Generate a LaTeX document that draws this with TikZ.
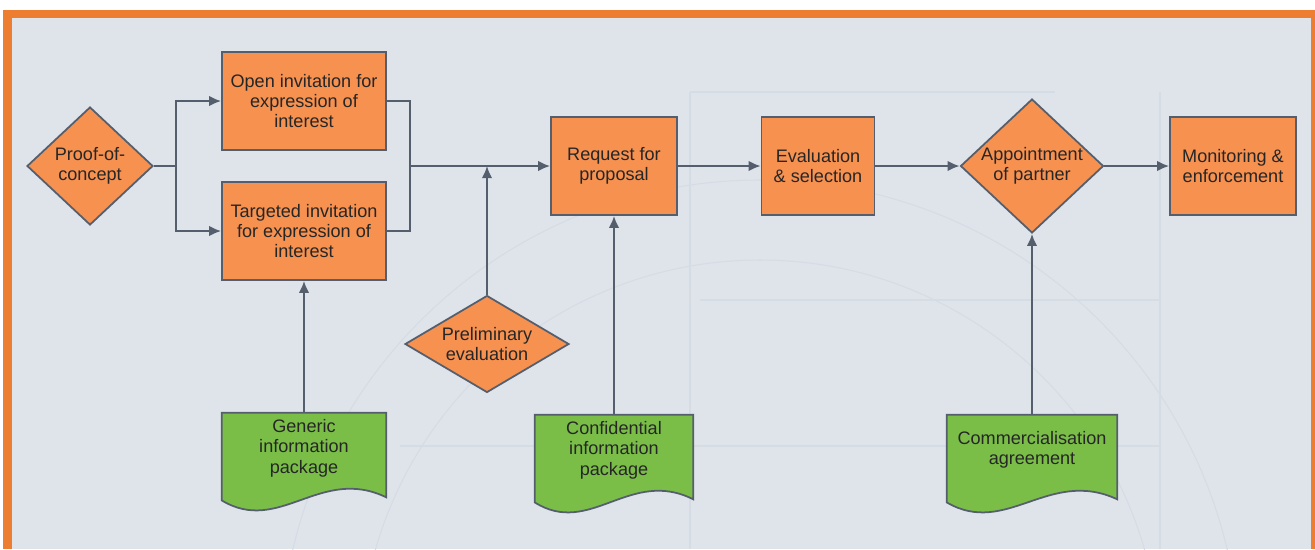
\documentclass[tikz,border=0pt]{standalone}
\usepackage{fontspec}
\setmainfont{Liberation Sans}
\usetikzlibrary{shapes.geometric,arrows.meta,calc}
\definecolor{boxorange}{RGB}{246,145,80}
\definecolor{docgreen}{RGB}{122,190,72}
\definecolor{edgegray}{RGB}{84,94,108}
\definecolor{paper}{RGB}{223,228,235}
\definecolor{faint}{RGB}{214,220,228}
\definecolor{frameorange}{RGB}{237,125,49}
\pgfdeclarelayer{bottom}
\pgfdeclarelayer{background}
\pgfsetlayers{bottom,background,main}
\tikzset{
  every node/.style={font=\fontsize{10.3}{11.6}\selectfont, align=center, text=black!85},
  stage/.style={rectangle, draw=edgegray, fill=boxorange, line width=1pt,
    minimum height=1.96cm, inner sep=0pt},
  decision/.style={diamond, draw=edgegray, fill=boxorange, line width=1pt, inner sep=-8pt},
  docnode/.style={minimum height=1.4cm, inner sep=0pt},
  docbox/.style={draw=edgegray, fill=docgreen, line width=1pt},
  flow/.style={draw=edgegray, line width=1.1pt, -{Latex[length=2.4mm,width=2.1mm]}},
  link/.style={draw=edgegray, line width=1.1pt},
}
\newcommand{\docwave}[1]{%
  \draw[docbox] (#1.north west) -- (#1.north east) -- ($(#1.south east)+(0,14)$)
    .. controls ($(#1.south west)!0.6!(#1.south east)+(0,-18)$)
    and ($(#1.south west)!0.35!(#1.south east)+(0,52)$) .. ($(#1.south west)+(0,17)$) -- cycle;}
\begin{document}
\begin{tikzpicture}[x=0.02cm,y=-0.02cm]
\useasboundingbox (0,0) rectangle (1315,549);
\begin{pgfonlayer}{bottom}
\fill[white] (0,0) rectangle (1315,549);
\fill[frameorange] (3,10) rectangle (1315,549);
\fill[paper] (12,18) rectangle (1311,549);
\draw[faint,line width=0.6pt] (690,92) -- (1055,92);
\draw[faint,line width=0.6pt] (690,92) -- (690,549);
\draw[faint,line width=0.6pt] (1160,92) -- (1160,549);
\draw[faint,line width=0.6pt] (400,446) -- (1160,446);
\draw[faint,line width=0.6pt] (700,300) -- (1160,300);
\draw[faint,line width=0.6pt] (760,660) circle (480);
\draw[faint,line width=0.6pt] (760,660) circle (400);
\end{pgfonlayer}

\node[decision, minimum width=2.52cm, minimum height=2.36cm] (poc) at (90,166) {Proof-of-\\concept};
\node[stage, minimum width=3.28cm] (open) at (304,101) {Open invitation for\\expression of\\interest};
\node[stage, minimum width=3.28cm] (targ) at (304,231) {Targeted invitation\\for expression of\\interest};
\node[stage, minimum width=2.52cm] (rfp) at (614,166) {Request for\\proposal};
\node[stage, minimum width=2.26cm] (evalsel) at (818,166) {Evaluation\\\& selection};
\node[decision, minimum width=2.86cm, minimum height=2.68cm] (appt) at (1032,166) {Appointment\\of partner};
\node[stage, minimum width=2.52cm] (monit) at (1233,166) {Monitoring \&\\enforcement};
\node[decision, minimum width=3.28cm, minimum height=1.94cm] (prelim) at (487,344) {Preliminary\\evaluation};
\node[docnode, minimum width=3.28cm] (generic) at (304,448) {Generic\\information\\package};
\node[docnode, minimum width=3.16cm] (confid) at (614,450) {Confidential\\information\\package};
\node[docnode, minimum width=3.4cm] (commagr) at (1032,450) {Commercialisation\\agreement};

\begin{pgfonlayer}{background}
\docwave{generic}
\docwave{confid}
\docwave{commagr}
\end{pgfonlayer}

\coordinate (split) at ($(poc.east)+(22,0)$);
\coordinate (merge) at (410,166);
\draw[link] (poc.east) -- (split);
\draw[flow] (split) |- (open.west);
\draw[flow] (split) |- (targ.west);
\draw[link] (open.east) -| (merge);
\draw[link] (targ.east) -| (merge);
\draw[flow] (merge) -- (rfp.west);
\draw[flow] (prelim.north) -- (prelim.north |- merge);
\draw[flow] (generic.north) -- (targ.south);
\draw[flow] (confid.north) -- (rfp.south);
\draw[flow] (rfp.east) -- (evalsel.west);
\draw[flow] (evalsel.east) -- (appt.west);
\draw[flow] (appt.east) -- (monit.west);
\draw[flow] (commagr.north) -- (appt.south);
\end{tikzpicture}
\end{document}
